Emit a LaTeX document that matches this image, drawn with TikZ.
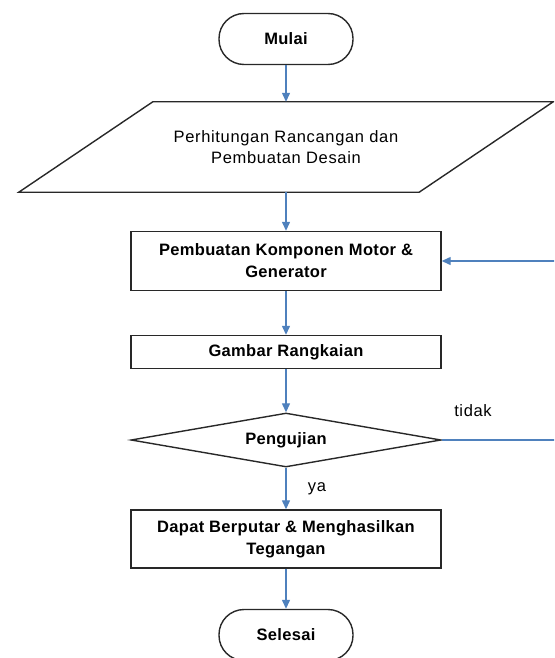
\documentclass[tikz,border=0pt]{standalone}
\usepackage{fontspec}
\setmainfont{Liberation Sans}[LetterSpace=4, BoldFeatures={LetterSpace=2}]
\usetikzlibrary{shapes.geometric, arrows.meta}
\definecolor{garis}{RGB}{79,129,189}
\definecolor{tepi}{RGB}{40,40,40}

\begin{document}
\begin{tikzpicture}[x=1pt, y=-1pt,
    kotak/.style={rectangle, draw=tepi, line width=1.4pt, minimum width=310pt, align=center, font=\bfseries\fontsize{16.5}{22}\selectfont},
    terminal/.style={rectangle, rounded corners=25pt, draw=tepi, line width=1.4pt, minimum width=134pt, minimum height=51pt, font=\bfseries\fontsize{16.5}{22}\selectfont},
    panah/.style={draw=garis, line width=1.3pt, -{Triangle[width=8pt,length=9pt]}},
    teks/.style={font=\fontsize{16.5}{18}\selectfont}]
    \useasboundingbox (0,0) rectangle (554,658);
    \clip (0,0) rectangle (554,658);

    % Mulai
    \node[terminal] (mulai) at (286,39) {Mulai};

    % jajaran genjang desain
    \node[rectangle, minimum width=400pt, minimum height=90pt, align=center,
          font=\fontsize{16.5}{21}\selectfont] (desain) at (286,147) {Perhitungan Rancangan dan\\Pembuatan Desain};
    \draw[tepi, line width=1.4pt] ([xshift=-67pt]desain.south west) -- ([xshift=67pt]desain.north west)
        -- ([xshift=67pt]desain.north east) -- ([xshift=-67pt]desain.south east) -- cycle;
    \draw[panah] (mulai) -- (desain);

    % komponen motor
    \node[kotak, minimum height=59pt] (komponen) at (286,261) {Pembuatan Komponen Motor \&\\Generator};
    \draw[panah] (desain) -- (komponen);

    % rangkaian
    \node[kotak, minimum height=33pt] (rangkaian) at (286,352) {Gambar Rangkaian};
    \draw[panah] (komponen) -- (rangkaian);

    % pengujian
    \node[diamond, aspect=5.7, inner sep=0pt, draw=tepi, line width=1.4pt, minimum width=310pt, minimum height=54pt,
          font=\bfseries\fontsize{16.5}{18}\selectfont] (uji) at (286,440) {Pengujian};
    \draw[panah] (rangkaian) -- (uji);

    % hasil
    \node[kotak, minimum height=58pt] (hasil) at (286,539) {Dapat Berputar \& Menghasilkan\\Tegangan};
    \draw[panah] (uji) -- (hasil);
    \node[teks] (ya) at (317,489) {ya};

    % kembali jika tidak
    \coordinate (balik) at (558,440);
    \draw[panah] (uji.east) -- (balik) |- (komponen.east);
    \node[teks] (tidak) at (473,411) {tidak};

    % Selesai
    \node[terminal] (selesai) at (286,635) {Selesai};
    \draw[panah] (hasil) -- (selesai);
\end{tikzpicture}
\end{document}
